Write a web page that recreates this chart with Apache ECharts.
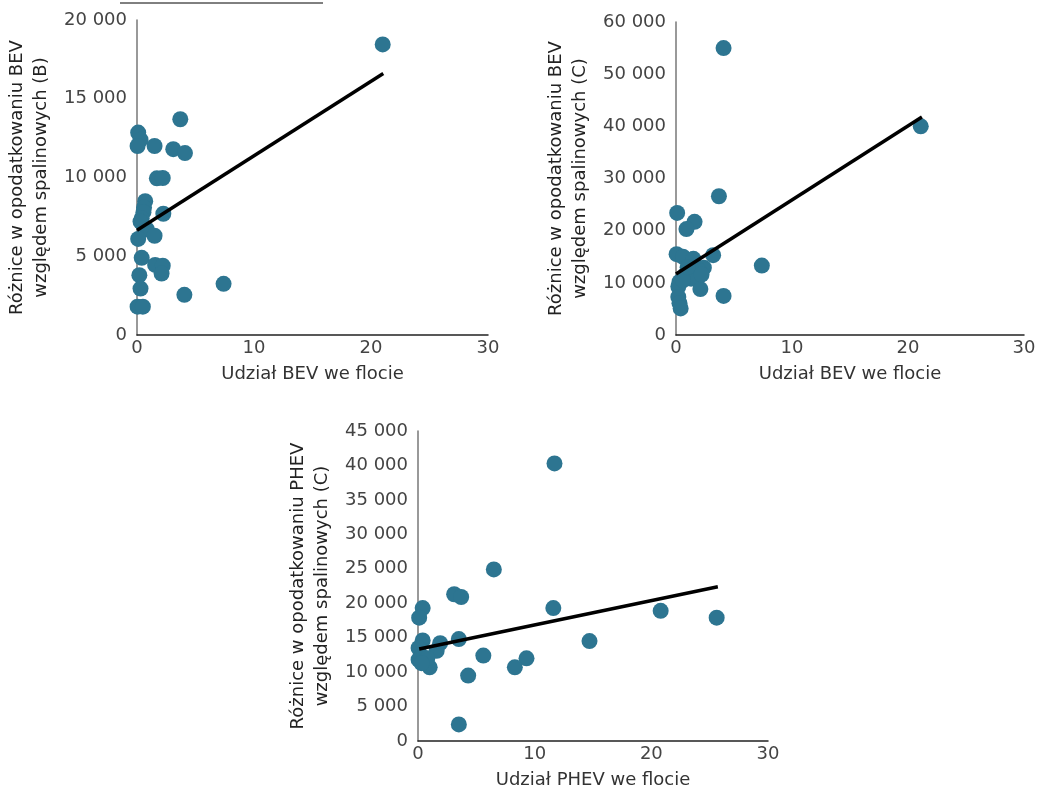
<!DOCTYPE html>
<html>
<head>
<meta charset="utf-8">
<script src="https://cdn.jsdelivr.net/npm/echarts@6/dist/echarts.min.js"></script>
<style>
  html, body { margin: 0; padding: 0; background: #fff; }
  #chart { width: 1038px; height: 791px; }
</style>
</head>
<body>
<div id="chart"></div>
<script>
// Udział BEV we flocie vs różnice w opodatkowaniu BEV (B)
var bevB = [
  [21.0, 18450], [3.7, 13700], [0.1, 12850], [0.3, 12400], [0.05, 12000], [1.5, 12000],
  [3.1, 11800], [4.1, 11550], [1.7, 9950], [2.2, 9970], [0.7, 8500], [0.6, 8100],
  [0.55, 7800], [0.4, 7400], [0.3, 7200], [2.25, 7700], [0.85, 6700], [1.5, 6300],
  [0.1, 6100], [0.4, 4900], [1.55, 4450], [2.2, 4400], [2.1, 3900], [0.2, 3800],
  [7.4, 3250], [0.3, 2950], [4.05, 2550], [0.05, 1800], [0.5, 1800]
];
var bevBTrend = [[0, 6650], [21.05, 16600]];

// Udział BEV we flocie vs różnice w opodatkowaniu BEV (C)
var bevC = [
  [4.1, 55000], [21.1, 40000], [3.7, 26600], [0.1, 23400], [1.6, 21700], [0.9, 20300],
  [0.05, 15500], [0.6, 15000], [1.5, 14600], [3.2, 15300], [7.4, 13300], [2.4, 12900],
  [2.0, 12300], [1.2, 12000], [0.8, 11500], [1.9, 11200], [1.3, 10800], [0.3, 10200],
  [0.2, 9300], [2.1, 8800], [4.1, 7500], [0.2, 7300], [0.3, 6100], [0.4, 5100],
  [0.6, 10500], [1.0, 13000], [2.2, 11600]
];
var bevCTrend = [[0, 11700], [21.2, 41800]];

// Udział PHEV we flocie vs różnice w opodatkowaniu PHEV (C)
var phevC = [
  [11.7, 40300], [6.5, 24900], [3.1, 21300], [3.7, 20900], [0.4, 19300], [11.6, 19300],
  [20.8, 18900], [0.1, 17900], [25.6, 17900], [0.4, 14600], [1.9, 14200], [3.5, 14800],
  [14.7, 14500], [0.05, 13500], [1.6, 13100], [5.6, 12400], [9.3, 12000], [0.05, 11800],
  [0.6, 11500], [1.0, 10700], [8.3, 10700], [4.3, 9500], [3.5, 2400], [0.3, 12300],
  [0.8, 12000], [0.3, 11300]
];
var phevCTrend = [[0.1, 13350], [25.7, 22400]];

var xNames = ['Udział BEV we flocie', 'Udział BEV we flocie', 'Udział PHEV we flocie'];
var yNames = [
  'Różnice w opodatkowaniu BEV\nwzględem spalinowych (B)',
  'Różnice w opodatkowaniu BEV\nwzględem spalinowych (C)',
  'Różnice w opodatkowaniu PHEV\nwzględem spalinowych (C)'
];
var yMax = [20000, 60000, 45000];
var yStep = [5000, 10000, 5000];

var FONT = 'DejaVu Sans';
var DOT = '#2d7591';

function fmt(v) {
  return String(v).replace(/\B(?=(\d{3})+(?!\d))/g, ' ');
}

var grids = [
  { left: 137, top: 20, width: 351, height: 315, outerBoundsMode: 'none' },
  { left: 676, top: 22, width: 348, height: 313, outerBoundsMode: 'none' },
  { left: 418, top: 431, width: 350, height: 310, outerBoundsMode: 'none' }
];

var xAxes = [], yAxes = [], series = [];
var sets = [bevB, bevC, phevC];
var trends = [bevBTrend, bevCTrend, phevCTrend];

for (var i = 0; i < 3; i++) {
  xAxes.push({
    type: 'value', gridIndex: i, min: 0, max: 30, interval: 10,
    name: xNames[i], nameLocation: 'middle', nameGap: 30,
    nameTextStyle: { fontFamily: FONT, fontSize: 18, color: '#333' },
    axisLine: { show: true, lineStyle: { color: '#222', width: 1.5 } },
    axisTick: { show: false },
    splitLine: { show: false },
    axisLabel: { fontFamily: FONT, fontSize: 18, color: '#444', margin: 4 }
  });
  yAxes.push({
    type: 'value', gridIndex: i, min: 0, max: yMax[i], interval: yStep[i],
    name: yNames[i], nameLocation: 'middle', nameGap: 84, nameRotate: 90,
    nameTextStyle: { fontFamily: FONT, fontSize: 18, color: '#222', lineHeight: 24 },
    axisLine: { show: true, lineStyle: { color: '#777', width: 1.5 } },
    axisTick: { show: false },
    splitLine: { show: false },
    axisLabel: { fontFamily: FONT, fontSize: 18, color: '#444', margin: 10, formatter: fmt }
  });
  series.push({
    type: 'scatter', xAxisIndex: i, yAxisIndex: i, data: sets[i],
    symbolSize: 16, itemStyle: { color: DOT, opacity: 1 }, z: 2
  });
  series.push({
    type: 'line', xAxisIndex: i, yAxisIndex: i, data: trends[i],
    symbol: 'none', lineStyle: { color: '#000', width: 3.5 }, z: 3
  });
}

var chart = echarts.init(document.getElementById('chart'));
chart.setOption({
  animation: false,
  grid: grids,
  xAxis: xAxes,
  yAxis: yAxes,
  series: series,
  graphic: [{
    type: 'line', shape: { x1: 120, y1: 3, x2: 323, y2: 3 },
    style: { stroke: '#000', lineWidth: 1 }
  }]
});
</script>
</body>
</html>
